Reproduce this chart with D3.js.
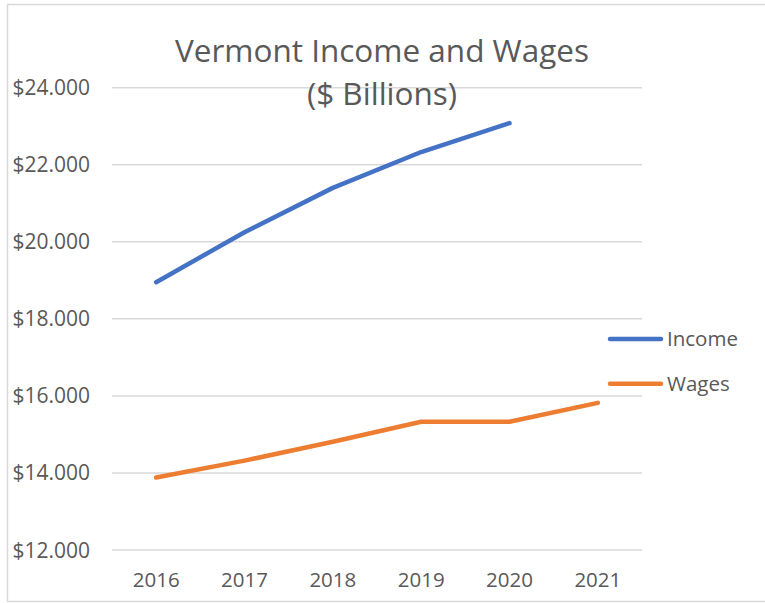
<!DOCTYPE html>
<html>
<head>
<meta charset="utf-8">
<script src="https://cdn.jsdelivr.net/npm/d3@7"></script>
<style>
  body { margin: 0; background: #fff; }
  text { font-family: "Open Sans", sans-serif; fill: #595959; }
</style>
</head>
<body>
<svg id="chart" width="765" height="603"></svg>
<script>
// values
var years = ["2016", "2017", "2018", "2019", "2020", "2021"];
var income = [18.95, 20.25, 21.40, 22.33, 23.08, null];
var wages = [13.88, 14.32, 14.81, 15.33, 15.33, 15.82];
var yTicks = [12, 14, 16, 18, 20, 22, 24];
var seriesNames = ["Income", "Wages"];
var seriesColors = ["#4472C4", "#ED7D31"];

// plot box (note: "top" is taken by window.top, so use other names)
var plotLeft = 112, plotRight = 642, plotTop = 87.7, plotBottom = 550;

var svg = d3.select("#chart");

// light frame round the chart area, right side runs off the page
svg.append("rect")
    .attr("x", 7.5).attr("y", 4.5)
    .attr("width", 800).attr("height", 597)
    .attr("fill", "none").attr("stroke", "#D9D9D9").attr("stroke-width", 1.5);

var x = d3.scaleBand().domain(years).range([plotLeft, plotRight]);
var y = d3.scaleLinear().domain([12, 24]).range([plotBottom, plotTop]);

// gridlines
svg.append("g").selectAll("line")
    .data(yTicks)
  .enter().append("line")
    .attr("x1", plotLeft).attr("x2", plotRight)
    .attr("y1", function(d) { return y(d); })
    .attr("y2", function(d) { return y(d); })
    .attr("stroke", "#D9D9D9").attr("stroke-width", 1.5);

// y labels, right aligned
var fmt = function(d) { return "$" + d3.format(".3f")(d); };
svg.append("g").selectAll("text")
    .data(yTicks)
  .enter().append("text")
    .attr("x", 90)
    .attr("y", function(d) { return y(d) + 7.5; })
    .attr("text-anchor", "end")
    .style("font-size", "21px")
    .text(fmt);

// x labels
svg.append("g").selectAll("text")
    .data(years)
  .enter().append("text")
    .attr("x", function(d) { return x(d) + x.bandwidth() / 2; })
    .attr("y", 587)
    .attr("text-anchor", "middle")
    .style("font-size", "20.5px")
    .text(function(d) { return d; });

// the two lines
var line = d3.line()
    .defined(function(d) { return d != null; })
    .x(function(d, i) { return x(years[i]) + x.bandwidth() / 2; })
    .y(function(d) { return y(d); });

[income, wages].forEach(function(s, i) {
  svg.append("path")
      .datum(s)
      .attr("d", line)
      .attr("fill", "none")
      .attr("stroke", seriesColors[i])
      .attr("stroke-width", 4.5)
      .attr("stroke-linecap", "round")
      .attr("stroke-linejoin", "round");
});

// title, two lines
var title = svg.append("text")
    .attr("text-anchor", "middle")
    .style("font-size", "31.5px");
title.append("tspan").attr("x", 382).attr("y", 62).text("Vermont Income and Wages");
title.append("tspan").attr("x", 382).attr("y", 105).text("($ Billions)");

// legend on the right
var legend = svg.append("g").selectAll("g")
    .data(seriesNames)
  .enter().append("g")
    .attr("transform", function(d, i) { return "translate(608," + (339 + i * 44.7) + ")"; });

legend.append("line")
    .attr("x1", 2).attr("x2", 53)
    .attr("stroke", function(d, i) { return seriesColors[i]; })
    .attr("stroke-width", 4.5)
    .attr("stroke-linecap", "round");

legend.append("text")
    .attr("x", 59).attr("y", 7)
    .style("font-size", "20.5px")
    .text(function(d) { return d; });
</script>
</body>
</html>
